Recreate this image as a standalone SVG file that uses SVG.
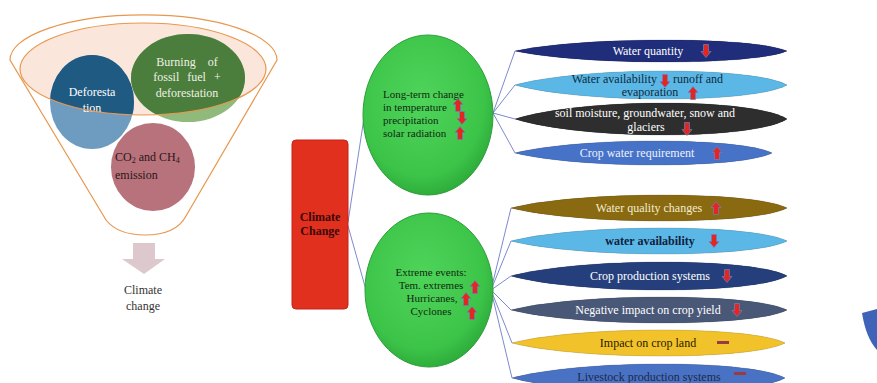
<svg xmlns="http://www.w3.org/2000/svg" xmlns:xlink="http://www.w3.org/1999/xlink" width="877" height="383" viewBox="0 0 877 383">
<style>
text{font-family:"Liberation Serif","Times New Roman",serif;}
.t11{font-size:11px;}
.t12{font-size:12px;}
.mid{text-anchor:middle;}
.w{fill:#ffffff;}
.conn{stroke:#5a6cc0;stroke-width:0.8;fill:none;}
.arr{fill:#e3261f;stroke:#6f80c4;stroke-width:0.7;}
.lens{stroke:rgba(0,0,0,0.15);stroke-width:0.6;}
.shine{fill:url(#shine);}
.green{fill:url(#gr);stroke:#2c9e38;stroke-width:1;}
.dash{fill:#9a3a44;}
.gt{fill:#102a10;}
</style>
<defs>
<linearGradient id="shine" x1="0" y1="0" x2="0" y2="1">
<stop offset="0" stop-color="#ffffff" stop-opacity="0.28"/>
<stop offset="0.45" stop-color="#ffffff" stop-opacity="0.05"/>
<stop offset="1" stop-color="#000000" stop-opacity="0.18"/>
</linearGradient>
<radialGradient id="gr" cx="0.45" cy="0.4" r="0.6">
<stop offset="0" stop-color="#4fd45a"/>
<stop offset="0.8" stop-color="#3cc449"/>
<stop offset="1" stop-color="#2fae3c"/>
</radialGradient>
<clipPath id="inner"><ellipse cx="143" cy="69" rx="123" ry="46"/></clipPath>
<path id="up" d="M0,-6.5 L5,-0.5 L2.5,-0.5 L2.5,6.5 L-2.5,6.5 L-2.5,-0.5 L-5,-0.5 Z"/>
</defs>
<rect width="877" height="383" fill="#ffffff"/>

<g id="funnel">
<path d="M10,60 A133,45 0 0 1 277,60 L186,216 Q176,235 145,235 Q118,235 106,220 Z" fill="#ffffff" stroke="#e8974e" stroke-width="1.2"/>
<ellipse cx="143" cy="69" rx="123" ry="46" fill="#fbe6dc"/>
</g>
<g id="deforestation">
<ellipse cx="92" cy="102" rx="42" ry="47" fill="#6e9cc0"/>
<ellipse cx="92" cy="102" rx="42" ry="47" fill="#1e5a82" clip-path="url(#inner)"/>
<text class="t12 mid w" x="92" y="96">Deforesta</text>
<text class="t12 mid w" x="92" y="112">tion</text>
</g>
<g id="burning">
<ellipse cx="188" cy="78" rx="57" ry="44" fill="#8fba7c"/>
<ellipse cx="188" cy="78" rx="57" ry="44" fill="#4b7e3c" clip-path="url(#inner)"/>
<text class="t12 mid" x="187" y="66" fill="#f0f0e6" word-spacing="9">Burning of</text>
<text class="t12 mid" x="187" y="81" fill="#f0f0e6" word-spacing="5">fossil fuel +</text>
<text class="t12 mid" x="187" y="97" fill="#f0f0e6">deforestation</text>
</g>
<ellipse cx="143" cy="69" rx="123" ry="46" fill="none" stroke="#e8974e" stroke-width="1.2"/>
<g id="emission">
<ellipse cx="153" cy="167" rx="42" ry="44" fill="#b8727c"/>
<text class="t12" x="115" y="161" fill="#2a1616">CO<tspan font-size="8" dy="2">2</tspan><tspan dy="-2"> and CH</tspan><tspan font-size="8" dy="2">4</tspan></text>
<text class="t12" x="115" y="179" fill="#2a1616">emission</text>
</g>
<g id="down-arrow">
<path d="M133,243 L155,243 L155,259 L165,259 L144,274 L122,259 L133,259 Z" fill="#ddc9cd"/>
</g>
<g id="climate-change-label">
<text class="t12 mid" x="143" y="294" fill="#333333">Climate</text>
<text class="t12 mid" x="143" y="310" fill="#333333">change</text>
</g>

<g id="connectors">
<path class="conn" d="M348,222 L364,118"/>
<path class="conn" d="M348,226 L366,290"/>
<path class="conn" d="M493,113 L515,51 M493,113 L515,85 M493,113 L515,119 M493,113 L515,153"/>
<path class="conn" d="M491,290 L511,208 M491,290 L511,241 M491,290 L511,276 M491,290 L511,310 M491,290 L512,343 M491,290 L512,378"/>
</g>

<g id="climate-change">
<rect x="292" y="140" width="56" height="169" rx="4" fill="#e2301f" stroke="#c4231a" stroke-width="1"/>
<text class="t12 mid" x="320" y="221" font-weight="bold" fill="#3a0808">Climate</text>
<text class="t12 mid" x="320" y="235" font-weight="bold" fill="#3a0808">Change</text>
</g>

<g id="long-term">
<ellipse class="green" cx="428" cy="115" rx="65" ry="80"/>
<text class="t11 gt" x="383" y="98">Long-term change</text>
<text class="t11 gt" x="383" y="111">in temperature</text>
<text class="t11 gt" x="383" y="124">precipitation</text>
<text class="t11 gt" x="383" y="137">solar radiation</text>
<use class="arr" href="#up" x="458" y="105"/>
<use class="arr" href="#up" transform="translate(462,118) rotate(180)"/>
<use class="arr" href="#up" x="460" y="133"/>
</g>

<g id="extreme">
<ellipse class="green" cx="429" cy="290" rx="64" ry="77"/>
<text class="t11 mid gt" x="431" y="276">Extreme events:</text>
<text class="t11 mid gt" x="431" y="289">Tem. extremes</text>
<text class="t11 mid gt" x="432" y="302">Hurricanes,</text>
<text class="t11 mid gt" x="431" y="315">Cyclones</text>
<use class="arr" href="#up" x="475" y="287"/>
<use class="arr" href="#up" x="466" y="299"/>
<use class="arr" href="#up" x="472" y="313"/>
</g>

<g id="water-quantity">
<path id="l1" class="lens" d="M515,51 C583,36.3 754,36.3 787,51 C754,65.7 583,65.7 515,51Z" fill="#1f2d7a"/>
<use class="shine" href="#l1"/>
<text class="t12 mid w" x="648" y="55">Water quantity</text>
<use class="arr" href="#up" transform="translate(706,51) rotate(180)"/>
</g>
<g id="water-availability-1">
<path id="l2" class="lens" d="M515,85 C583,66.3 754,66.3 787,85 C754,103.7 583,103.7 515,85Z" fill="#5bb8e6"/>
<use class="shine" href="#l2"/>
<text class="t12" x="657" y="83" text-anchor="end" fill="#0e2a3c">Water availability</text>
<text class="t12" x="673" y="83" fill="#0e2a3c">runoff and</text>
<text class="t12 mid" x="650" y="96" fill="#0e2a3c">evaporation</text>
<use class="arr" href="#up" transform="translate(665,81) rotate(180)"/>
<use class="arr" href="#up" x="693" y="93"/>
</g>
<g id="soil-moisture">
<path id="l3" class="lens" d="M515,119 C583,97.7 754,97.7 787,119 C754,140.3 583,140.3 515,119Z" fill="#2e2e2e"/>
<use class="shine" href="#l3"/>
<text class="t12 mid w" x="645" y="117">soil moisture, groundwater, snow and</text>
<text class="t12 mid w" x="646" y="131">glaciers</text>
<use class="arr" href="#up" transform="translate(687,129) rotate(180)"/>
</g>
<g id="crop-water">
<path id="l4" class="lens" d="M515,153 C579,137 741,137 772,153 C741,169 579,169 515,153Z" fill="#4673c8"/>
<use class="shine" href="#l4"/>
<text class="t12 mid" x="637" y="157" fill="#eef2fa">Crop water requirement</text>
<use class="arr" href="#up" x="717" y="153"/>
</g>

<g id="water-quality">
<path id="l5" class="lens" d="M511,208 C580,190.7 754,190.7 787,208 C754,225.3 580,225.3 511,208Z" fill="#8a6a10"/>
<use class="shine" href="#l5"/>
<text class="t12 mid" x="649" y="212" fill="#f4ecd0">Water quality changes</text>
<use class="arr" href="#up" x="716" y="208"/>
</g>
<g id="water-availability-2">
<path id="l6" class="lens" d="M511,241 C580,223.7 754,223.7 787,241 C754,258.3 580,258.3 511,241Z" fill="#5bb8e6"/>
<use class="shine" href="#l6"/>
<text class="t12 mid" x="650" y="245" font-weight="bold" fill="#10203e">water availability</text>
<use class="arr" href="#up" transform="translate(714,241) rotate(180)"/>
</g>
<g id="crop-production">
<path id="l7" class="lens" d="M511,276 C580,257.3 754,257.3 787,276 C754,294.7 580,294.7 511,276Z" fill="#253f7c"/>
<use class="shine" href="#l7"/>
<text class="t12 mid w" x="650" y="280">Crop production systems</text>
<use class="arr" href="#up" transform="translate(727,276) rotate(180)"/>
</g>
<g id="crop-yield">
<path id="l8" class="lens" d="M511,310 C580,292.7 754,292.7 787,310 C754,327.3 580,327.3 511,310Z" fill="#4a5878"/>
<use class="shine" href="#l8"/>
<text class="t12 mid w" x="648" y="314">Negative impact on crop yield</text>
<use class="arr" href="#up" transform="translate(737,310) rotate(180)"/>
</g>
<g id="crop-land">
<path id="l9" class="lens" d="M512,343 C580,325.7 752,325.7 785,343 C752,360.3 580,360.3 512,343Z" fill="#f2c22a"/>
<use class="shine" href="#l9"/>
<text class="t12 mid" x="648" y="347" fill="#2a1a00">Impact on crop land</text>
<rect class="dash" x="717" y="341" width="12" height="3"/>
</g>
<g id="livestock">
<path id="l10" class="lens" d="M512,378 C580,359.3 752,359.3 785,378 C752,396.7 580,396.7 512,378Z" fill="#4a72c4"/>
<use class="shine" href="#l10"/>
<text class="t12 mid" x="649" y="381" fill="#1a2a4a">Livestock production systems</text>
<rect class="dash" x="734" y="372" width="12" height="3"/>
</g>

<g id="partial-shape">
<path d="M862,313 L877,309 L877,350 Q866,338 862,313 Z" fill="#3f63b8"/>
</g>
</svg>
